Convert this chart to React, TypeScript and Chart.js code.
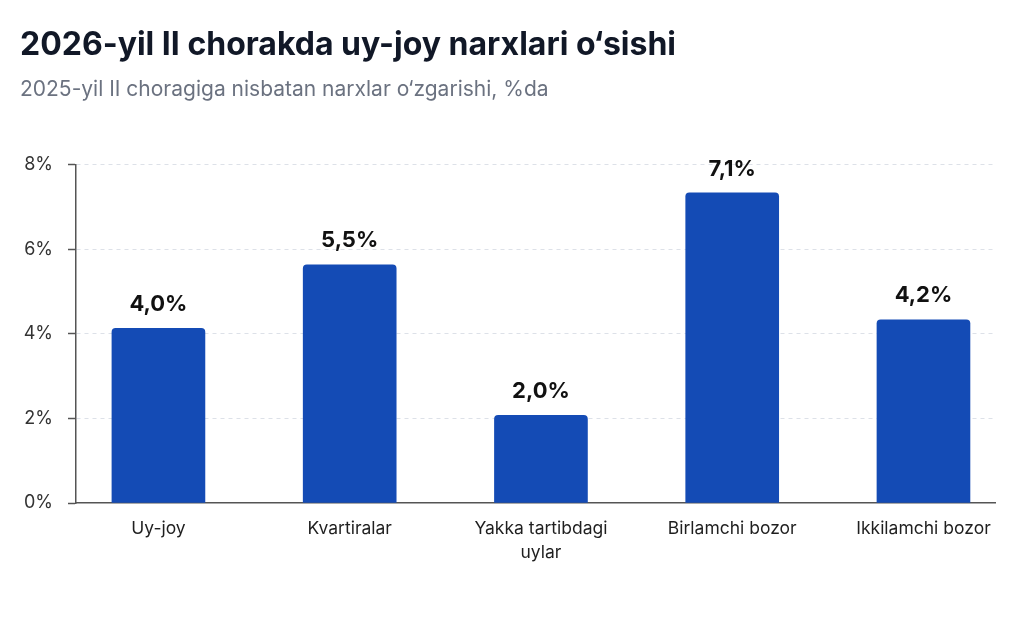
import React, { useEffect, useRef } from "react";
import { Chart, registerables } from "chart.js";

Chart.register(...registerables);

const TITLE = "2026-yil II chorakda uy-joy narxlari o‘sishi";
const SUBTITLE = "2025-yil II choragiga nisbatan narxlar o‘zgarishi, %da";

const categories: (string | string[])[] = [
  "Uy-joy",
  "Kvartiralar",
  ["Yakka tartibdagi", "uylar"],
  "Birlamchi bozor",
  "Ikkilamchi bozor",
];
// bar heights as drawn in the picture
const barValues = [4.13, 5.63, 2.07, 7.33, 4.33];
// values printed above the bars
const labelValues = [4.0, 5.5, 2.0, 7.1, 4.2];
const yTicks = [0, 2, 4, 6, 8];

const X_MIN = -0.431;
const X_MAX = 4.374;

const fmt = (v: number) => v.toFixed(1).replace(".", ",") + "%";

const valueLabelPlugin = {
  id: "valueLabels",
  afterDatasetsDraw(chart: any) {
    const ctx = chart.ctx;
    const meta = chart.getDatasetMeta(0);
    ctx.save();
    ctx.font = "bold 22px Inter";
    ctx.fillStyle = "#111111";
    ctx.textAlign = "center";
    ctx.textBaseline = "middle";
    meta.data.forEach((bar: any, i: number) => {
      ctx.fillText(fmt(labelValues[i]), bar.x, bar.y - 24);
    });
    ctx.restore();
  },
};

export default function App() {
  const ref = useRef<HTMLCanvasElement | null>(null);

  useEffect(() => {
    if (!ref.current) return;
    const chart = new Chart(ref.current, {
      type: "bar",
      data: {
        datasets: [
          {
            data: barValues.map((v, i) => ({ x: i, y: v })),
            backgroundColor: "#144bb5",
            borderRadius: 4,
            borderSkipped: "bottom",
            barThickness: 93,
          },
        ],
      },
      options: {
        responsive: false,
        animation: false,
        layout: { padding: { left: 20, right: 29, top: 0, bottom: 0 } },
        plugins: {
          legend: { display: false },
          tooltip: { enabled: false },
          title: {
            display: true,
            text: TITLE,
            align: "start",
            color: "#111827",
            font: { family: "Inter", size: 32, weight: "bold", lineHeight: 1.2 },
            padding: { top: 26, bottom: 0 },
          },
          subtitle: {
            display: true,
            text: SUBTITLE,
            align: "start",
            color: "#6b7280",
            font: { family: "Inter", size: 21, weight: "normal", lineHeight: 1.2 },
            padding: { top: 13, bottom: 62 },
          },
        },
        scales: {
          x: {
            type: "linear",
            bounds: "data",
            offset: false,
            min: X_MIN,
            max: X_MAX,
            afterBuildTicks: (scale: any) => {
              scale.ticks = categories.map((_, i) => ({ value: i }));
              scale.min = X_MIN;
              scale.max = X_MAX;
            },
            afterFit: (scale: any) => {
              scale.height = 617 - 503;
            },
            ticks: {
              autoSkip: false,
              maxRotation: 0,
              padding: 14,
              color: "#1f1f1f",
              font: { family: "Inter", size: 17.5, lineHeight: 1.35 },
              callback: (v: any) => categories[v as number] ?? "",
            },
            grid: { display: false, drawTicks: false },
            border: { display: true, color: "#555555", width: 1.5 },
          },
          y: {
            min: 0,
            max: 8,
            afterBuildTicks: (scale: any) => {
              scale.ticks = yTicks.map((v) => ({ value: v }));
            },
            afterFit: (scale: any) => {
              scale.width = 56;
            },
            ticks: {
              padding: 15,
              color: "#333333",
              font: { family: "Inter", size: 18 },
              callback: (v: any) => v + "%",
            },
            grid: {
              color: (c: any) => (c.tick && c.tick.value === 0 ? "rgba(0,0,0,0)" : "#dde1e8"),
              lineWidth: 1,
              drawTicks: true,
              tickLength: 8,
              tickColor: "#555555",
              tickWidth: 1.5,
              tickBorderDash: [],
            },
            border: { display: true, color: "#555555", width: 1.5, dash: [4, 4] },
          },
        },
      },
      plugins: [valueLabelPlugin],
    } as any);
    return () => chart.destroy();
  }, []);

  return (
    <div style={{ position: "absolute", left: 0, top: 0, width: 1024, height: 617, background: "#ffffff" }}>
      <canvas ref={ref} width={1024} height={617} style={{ display: "block" }} />
    </div>
  );
}
